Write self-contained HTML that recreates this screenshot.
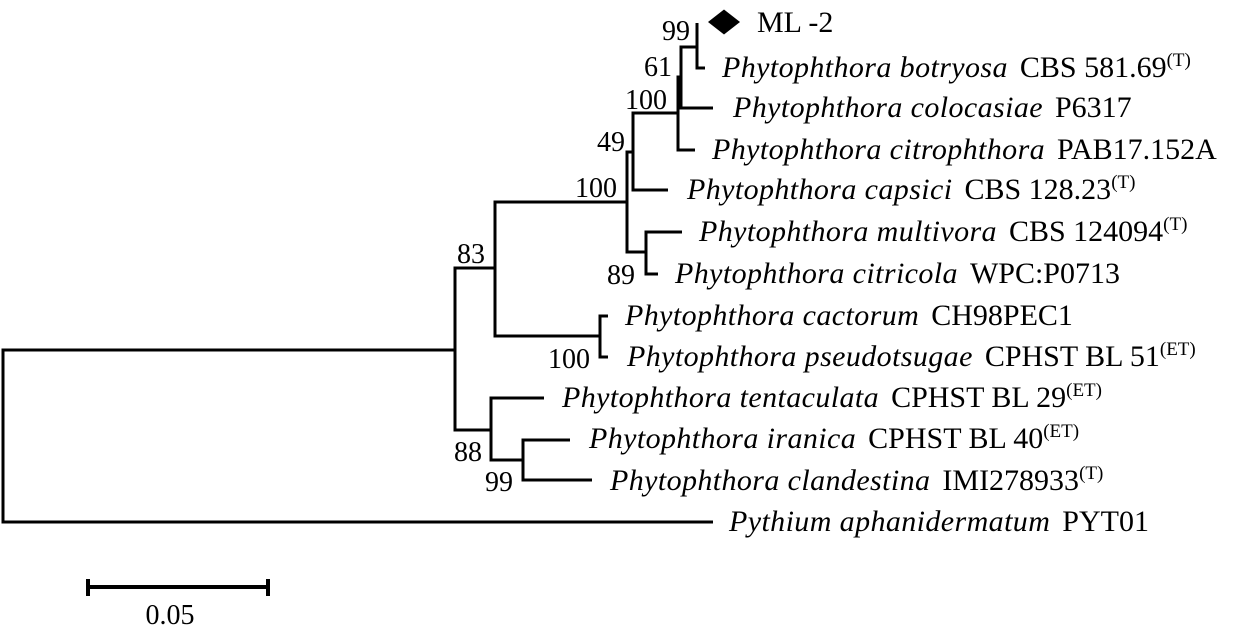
<!DOCTYPE html>
<html>
<head>
<meta charset="utf-8">
<style>
  html, body { margin: 0; padding: 0; background: #fff; }
  svg { display: block; }
  text { font-family: "Liberation Serif", "Times New Roman", serif; font-size: 28px; fill: #000; }
  .lab { font-size: 30px; }
  .i { font-style: italic; letter-spacing: 0.4px; }
  .sup { font-size: 19px; }
</style>
</head>
<body>
<svg width="1242" height="641" viewBox="0 0 1242 641" xmlns="http://www.w3.org/2000/svg">
  <g fill="none" stroke="#000" stroke-width="3" stroke-linejoin="miter" stroke-linecap="butt">
    <path d="M455 350 H3 V522 H713"/>
    <path d="M495 268 H455 V430 H491"/>
    <path d="M627 202 H495 V336 H600"/>
    <path d="M633 152 H627 V252 H646"/>
    <path d="M678 113 H633 V190 H668"/>
    <path d="M681 77 H678 V150 H695"/>
    <path d="M697 47 H681 V108 H713"/>
    <path d="M697 23 V68 H705"/>
    <path d="M682 232 H646 V274 H658"/>
    <path d="M608 316 H600 V357 H608"/>
    <path d="M544 398 H491 V460 H523"/>
    <path d="M570 440 H523 V480 H592"/>
  </g>

  <g stroke="#000" stroke-width="4" fill="none">
    <path d="M88 587 H268"/>
    <path d="M88 579 V596"/>
    <path d="M268 579 V596"/>
  </g>
  <text x="170" y="624" text-anchor="middle">0.05</text>

  <polygon points="708,22 724,9.5 740,22 724,34.5" fill="#000"/>
  <text class="lab" x="757" y="32">ML -2</text>

  <text x="690" y="40" text-anchor="end">99</text>
  <text x="672" y="76" text-anchor="end">61</text>
  <text x="667" y="109" text-anchor="end">100</text>
  <text x="625" y="151" text-anchor="end">49</text>
  <text x="617" y="197" text-anchor="end">100</text>
  <text x="635" y="284" text-anchor="end">89</text>
  <text x="485" y="263" text-anchor="end">83</text>
  <text x="590" y="368" text-anchor="end">100</text>
  <text x="482" y="461" text-anchor="end">88</text>
  <text x="513" y="491" text-anchor="end">99</text>

  <text class="lab" x="722" y="77"><tspan class="i">Phytophthora botryosa</tspan><tspan dx="12">CBS 581.69</tspan><tspan class="sup" dy="-11">(T)</tspan></text>
  <text class="lab" x="733" y="117"><tspan class="i">Phytophthora colocasiae</tspan><tspan dx="12">P6317</tspan></text>
  <text class="lab" x="712" y="159"><tspan class="i">Phytophthora citrophthora</tspan><tspan dx="12">PAB17.152A</tspan></text>
  <text class="lab" x="687" y="199"><tspan class="i">Phytophthora capsici</tspan><tspan dx="12">CBS 128.23</tspan><tspan class="sup" dy="-11">(T)</tspan></text>
  <text class="lab" x="699" y="241"><tspan class="i">Phytophthora multivora</tspan><tspan dx="12">CBS 124094</tspan><tspan class="sup" dy="-11">(T)</tspan></text>
  <text class="lab" x="675" y="283"><tspan class="i">Phytophthora citricola</tspan><tspan dx="12">WPC:P0713</tspan></text>
  <text class="lab" x="625" y="325"><tspan class="i">Phytophthora cactorum</tspan><tspan dx="12">CH98PEC1</tspan></text>
  <text class="lab" x="627" y="366"><tspan class="i">Phytophthora pseudotsugae</tspan><tspan dx="12">CPHST BL 51</tspan><tspan class="sup" dy="-11">(ET)</tspan></text>
  <text class="lab" x="562" y="407"><tspan class="i">Phytophthora tentaculata</tspan><tspan dx="12">CPHST BL 29</tspan><tspan class="sup" dy="-11">(ET)</tspan></text>
  <text class="lab" x="589" y="448"><tspan class="i">Phytophthora iranica</tspan><tspan dx="12">CPHST BL 40</tspan><tspan class="sup" dy="-11">(ET)</tspan></text>
  <text class="lab" x="610" y="490"><tspan class="i">Phytophthora clandestina</tspan><tspan dx="12">IMI278933</tspan><tspan class="sup" dy="-11">(T)</tspan></text>
  <text class="lab" x="729" y="531"><tspan class="i">Pythium aphanidermatum</tspan><tspan dx="12">PYT01</tspan></text>
</svg>
</body>
</html>
